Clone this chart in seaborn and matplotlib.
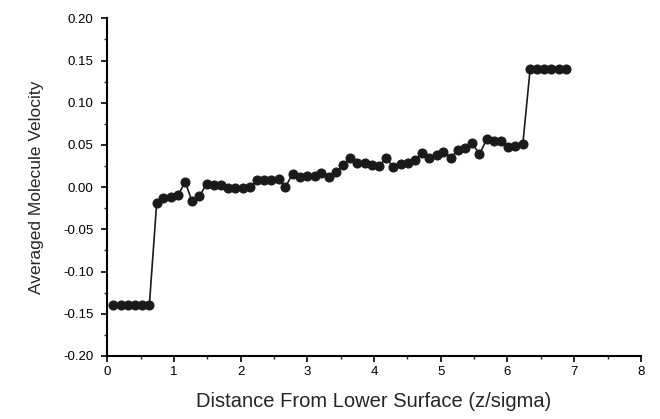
import matplotlib
matplotlib.use('Agg')
import matplotlib.pyplot as plt
from matplotlib.ticker import MultipleLocator
import seaborn as sns
import pandas as pd

# distance bins (z/sigma)
distance = [0.09, 0.20, 0.31, 0.41, 0.52, 0.63, 0.74, 0.84, 0.95, 1.06,
            1.17, 1.27, 1.38, 1.49, 1.60, 1.71, 1.81, 1.92, 2.03, 2.14,
            2.24, 2.35, 2.46, 2.57, 2.67, 2.78, 2.89, 3.00, 3.11, 3.21,
            3.32, 3.43, 3.54, 3.64, 3.75, 3.86, 3.97, 4.07, 4.18, 4.29,
            4.40, 4.51, 4.61, 4.72, 4.83, 4.94, 5.04, 5.15, 5.26, 5.37,
            5.47, 5.58, 5.69, 5.80, 5.91, 6.01, 6.12, 6.23, 6.34, 6.44,
            6.55, 6.66, 6.77, 6.88]

# averaged molecule velocity
velocity = [-0.140, -0.140, -0.140, -0.140, -0.140, -0.140,
            -0.019, -0.013, -0.012, -0.009, 0.006, -0.017, -0.011, 0.004,
            0.002, 0.002, -0.001, -0.001, -0.001, 0.000, 0.008, 0.008,
            0.009, 0.010, 0.000, 0.016, 0.012, 0.013, 0.013, 0.017,
            0.012, 0.018, 0.026, 0.035, 0.029, 0.028, 0.026, 0.025,
            0.034, 0.024, 0.027, 0.029, 0.032, 0.040, 0.035, 0.038,
            0.042, 0.035, 0.044, 0.046, 0.052, 0.039, 0.057, 0.055,
            0.055, 0.048, 0.049, 0.051,
            0.140, 0.140, 0.140, 0.140, 0.140, 0.140]

df = pd.DataFrame({'z': distance, 'v': velocity})

sns.set_style('ticks')
plt.rcParams['font.family'] = ['Liberation Sans', 'DejaVu Sans']

fig = plt.figure(figsize=(6.6, 4.19), dpi=100)
ax = fig.add_axes([0.1626, 0.1506, 0.8084, 0.8057])

sns.lineplot(data=df, x='z', y='v', ax=ax, color='#1a1a1a', linewidth=1.2,
             marker='o', markersize=6.5, markeredgecolor='#1a1a1a',
             markerfacecolor='#1a1a1a')

ax.set_xlim(0, 8)
ax.set_ylim(-0.20, 0.20)
ax.xaxis.set_major_locator(MultipleLocator(1))
ax.xaxis.set_minor_locator(MultipleLocator(0.5))
ax.yaxis.set_major_locator(MultipleLocator(0.05))
ax.yaxis.set_minor_locator(MultipleLocator(0.025))
ax.yaxis.set_major_formatter(matplotlib.ticker.FormatStrFormatter('%.2f'))

ax.tick_params(which='major', direction='out', length=4, width=1.2,
               labelsize=9.5, colors='black', pad=3)
ax.tick_params(axis='y', which='major', pad=6)
ax.tick_params(which='minor', direction='out', length=2.5, width=1.0)

for side in ['left', 'bottom']:
    ax.spines[side].set_linewidth(1.5)
    ax.spines[side].set_color('black')
sns.despine(ax=ax)

ax.set_xlabel('Distance From Lower Surface (z/sigma)', fontsize=14.5, labelpad=10)
ax.set_ylabel('Averaged Molecule Velocity', fontsize=12.5, labelpad=14)

fig.savefig('out.png', dpi=100)
